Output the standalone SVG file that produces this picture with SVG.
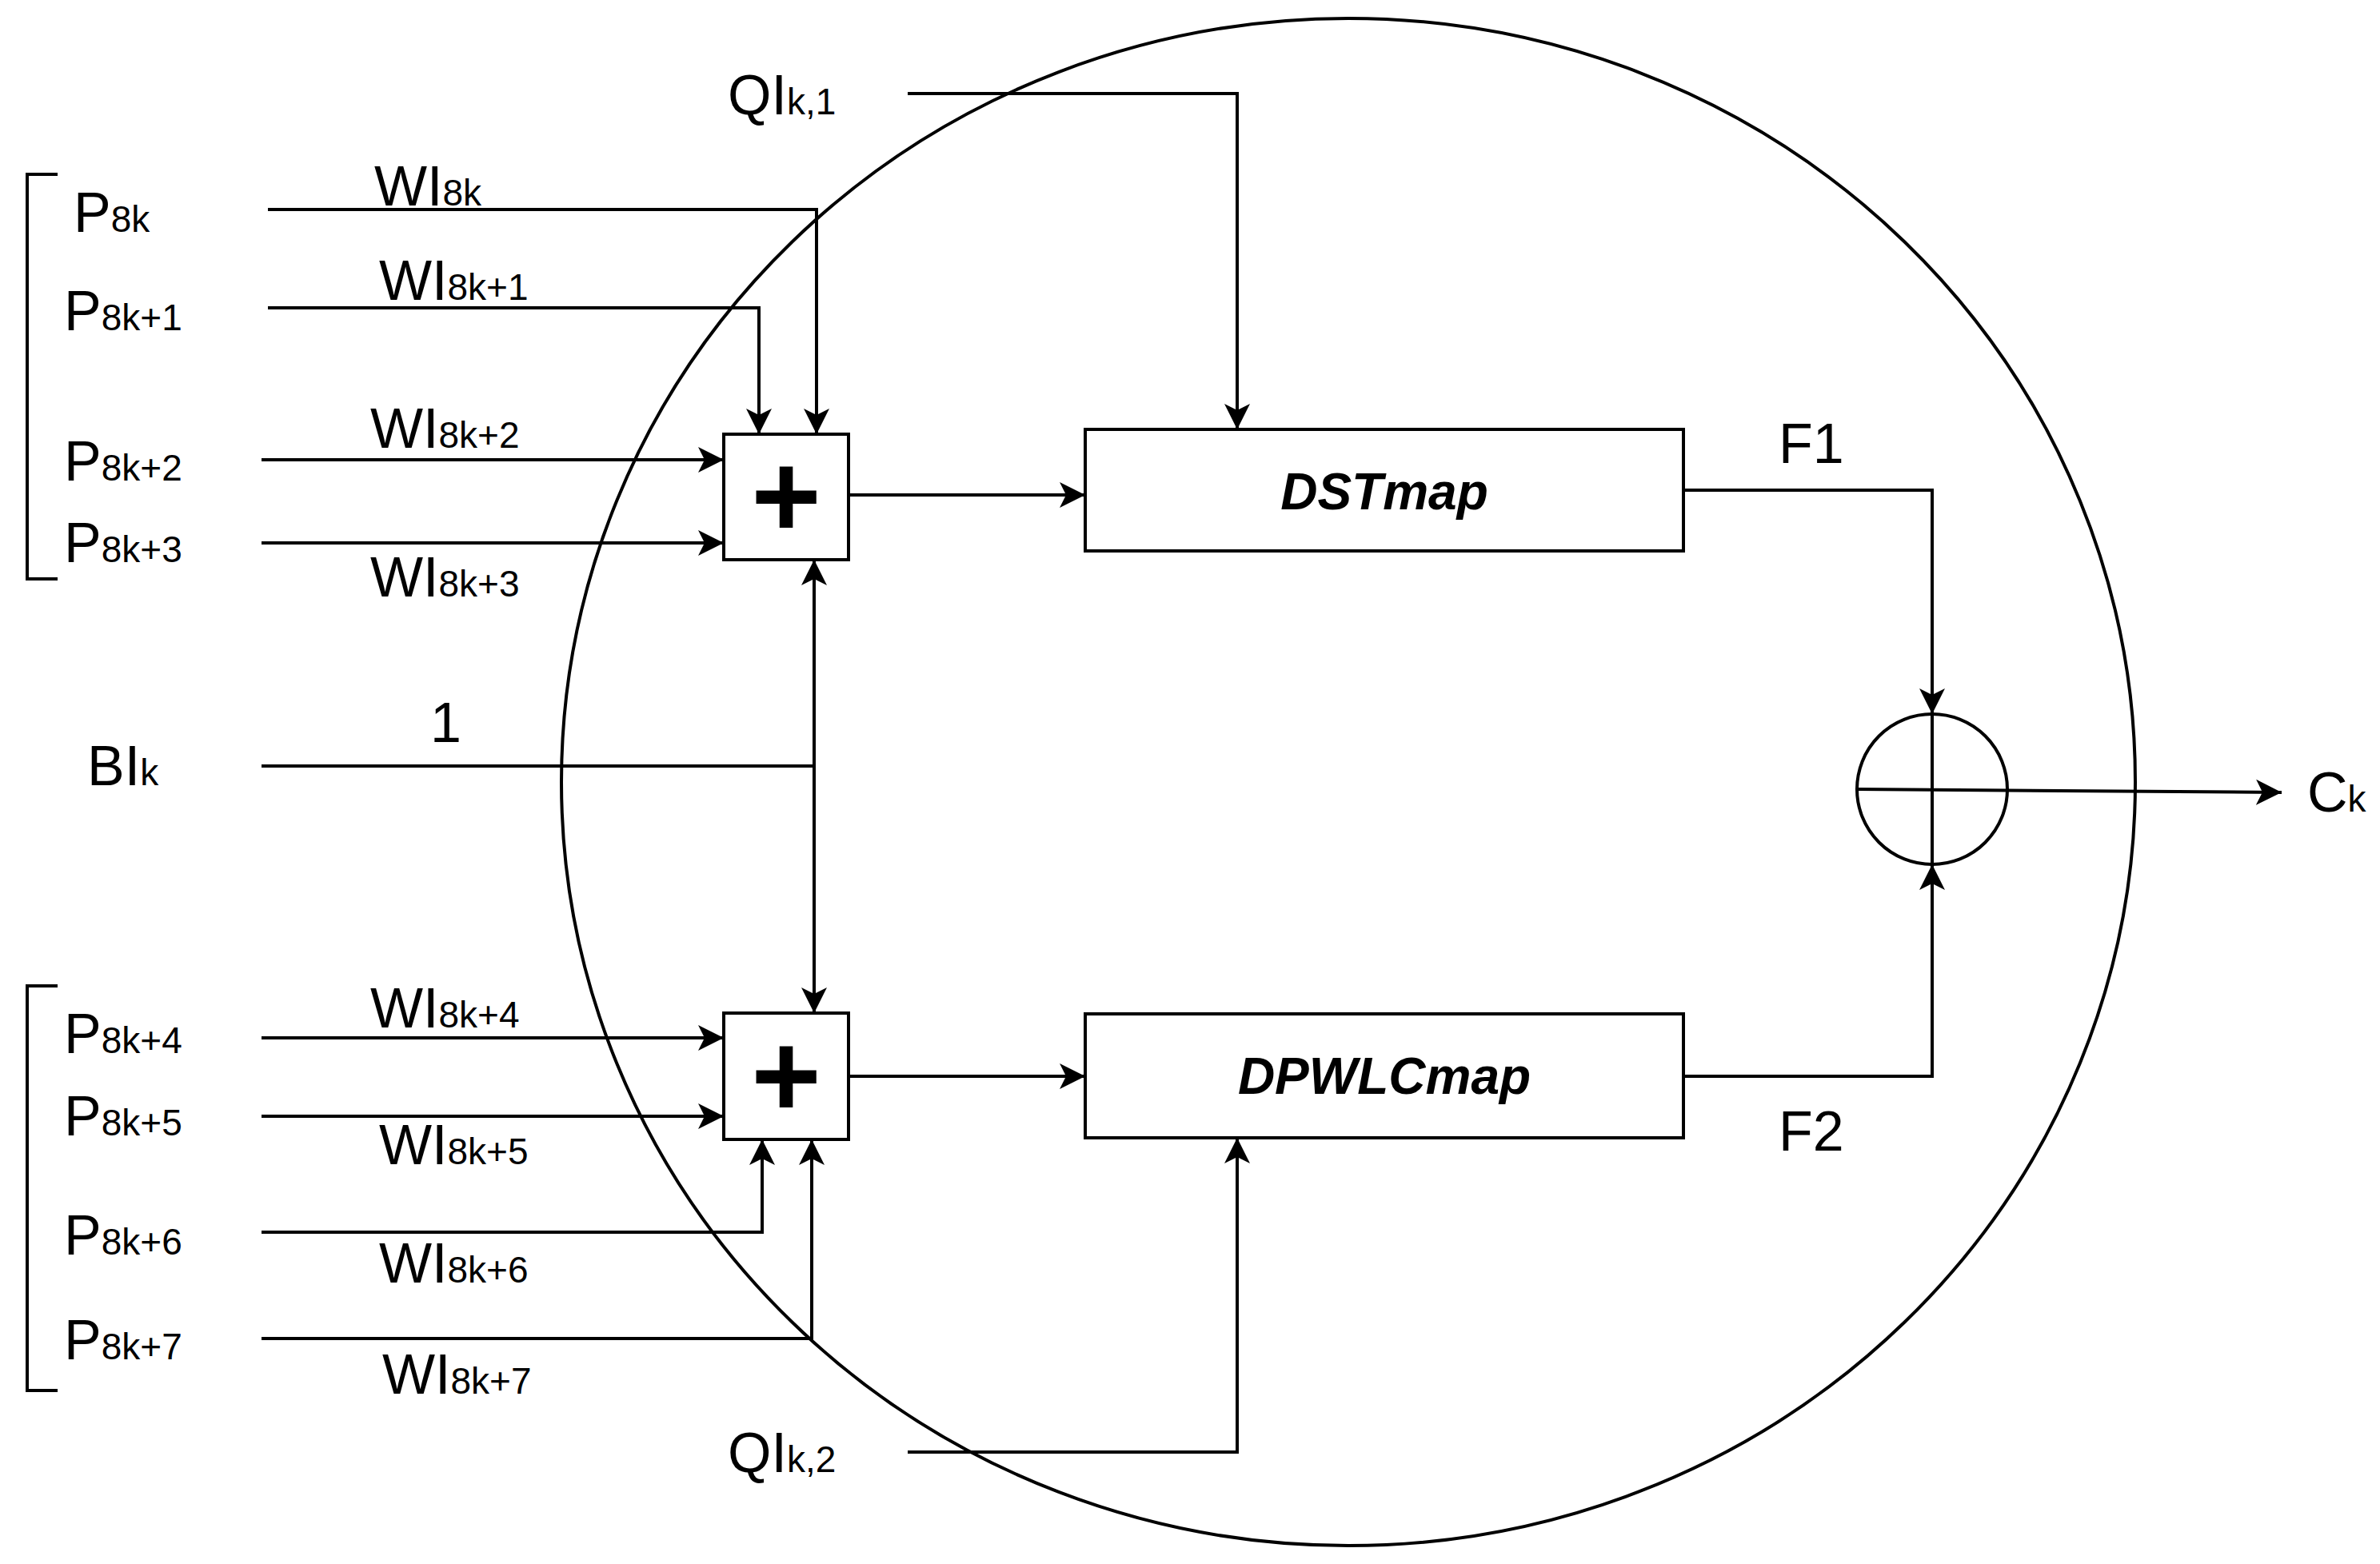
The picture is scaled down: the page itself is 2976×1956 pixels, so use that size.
<svg xmlns="http://www.w3.org/2000/svg" width="2976" height="1956" viewBox="0 0 2976 1956">
<style>
.l{fill:none;stroke:#000;stroke-width:4}
.t{font-family:"Liberation Sans",Arial,sans-serif;font-size:70px;fill:#000}
.s{font-size:46px}
.b{font-family:"Liberation Sans",Arial,sans-serif;font-size:64px;font-weight:bold;font-style:italic;text-anchor:middle}
.p{font-family:"Liberation Sans",Arial,sans-serif;font-size:150px;font-weight:bold;text-anchor:middle}
</style>
<defs>
<marker id="a" markerUnits="userSpaceOnUse" markerWidth="34" markerHeight="34" refX="32" refY="16" orient="auto" viewBox="0 0 34 34">
<path d="M0,0 L32,16 L0,32 L8,16 z" fill="#000"/>
</marker>
</defs>
<rect width="2976" height="1956" fill="#fff"/>
<g id="outer"><ellipse class="l" cx="1686" cy="978" rx="984" ry="955" stroke-width="3.5"/></g>
<g id="brackets">
<path class="l" d="M72,218 H34 V724 H72"/>
<path class="l" d="M72,1233 H34 V1739 H72"/>
</g>
<g id="sum1"><rect class="l" x="905" y="543" width="156" height="157"/><text class="p" x="983" y="672">+</text></g>
<g id="sum2"><rect class="l" x="905" y="1267" width="156" height="158"/><text class="p" x="983" y="1397">+</text></g>
<g id="dst"><rect class="l" x="1357" y="537" width="748" height="152"/><text class="b" x="1731" y="637">DSTmap</text></g>
<g id="dpwlc"><rect class="l" x="1357" y="1268" width="748" height="155"/><text class="b" x="1731" y="1368">DPWLCmap</text></g>
<g id="xor"><circle class="l" cx="2416" cy="987" r="94"/></g>
<g id="connectors">
<path class="l" d="M335,262 H1021 V543" marker-end="url(#a)"/>
<path class="l" d="M335,385 H949 V543" marker-end="url(#a)"/>
<path class="l" d="M327,575 H905" marker-end="url(#a)"/>
<path class="l" d="M327,679 H905" marker-end="url(#a)"/>
<path class="l" d="M327,958 H1018"/>
<path class="l" d="M1018,958 V700" marker-end="url(#a)"/>
<path class="l" d="M1018,958 V1267" marker-end="url(#a)"/>
<path class="l" d="M327,1298 H905" marker-end="url(#a)"/>
<path class="l" d="M327,1396 H905" marker-end="url(#a)"/>
<path class="l" d="M327,1541 H953 V1425" marker-end="url(#a)"/>
<path class="l" d="M327,1674 H1015 V1425" marker-end="url(#a)"/>
<path class="l" d="M1061,619 H1357" marker-end="url(#a)"/>
<path class="l" d="M1061,1346 H1357" marker-end="url(#a)"/>
<path class="l" d="M1135,117 H1547 V537" marker-end="url(#a)"/>
<path class="l" d="M1135,1816 H1547 V1423" marker-end="url(#a)"/>
<path class="l" d="M2105,613 H2416 V893" marker-end="url(#a)"/>
<path class="l" d="M2105,1346 H2416 V1081" marker-end="url(#a)"/>
<path class="l" d="M2416,893 V1081"/>
<path class="l" d="M2322,987 L2853,991" marker-end="url(#a)"/>
</g>
<g id="labels">
<text class="t" x="92" y="290">P<tspan class="s">8k</tspan></text>
<text class="t" x="80" y="413">P<tspan class="s">8k+1</tspan></text>
<text class="t" x="80" y="601">P<tspan class="s">8k+2</tspan></text>
<text class="t" x="80" y="703">P<tspan class="s">8k+3</tspan></text>
<text class="t" x="80" y="1317">P<tspan class="s">8k+4</tspan></text>
<text class="t" x="80" y="1420">P<tspan class="s">8k+5</tspan></text>
<text class="t" x="80" y="1569">P<tspan class="s">8k+6</tspan></text>
<text class="t" x="80" y="1700">P<tspan class="s">8k+7</tspan></text>
<text class="t" x="109" y="982">BI<tspan class="s">k</tspan></text>
<text class="t" x="468" y="257">WI<tspan class="s">8k</tspan></text>
<text class="t" x="474" y="375">WI<tspan class="s">8k+1</tspan></text>
<text class="t" x="463" y="560">WI<tspan class="s">8k+2</tspan></text>
<text class="t" x="463" y="746">WI<tspan class="s">8k+3</tspan></text>
<text class="t" x="463" y="1285">WI<tspan class="s">8k+4</tspan></text>
<text class="t" x="474" y="1456">WI<tspan class="s">8k+5</tspan></text>
<text class="t" x="474" y="1604">WI<tspan class="s">8k+6</tspan></text>
<text class="t" x="478" y="1743">WI<tspan class="s">8k+7</tspan></text>
<text class="t" x="538" y="928">1</text>
<text class="t" x="910" y="143">QI<tspan class="s">k,1</tspan></text>
<text class="t" x="910" y="1841">QI<tspan class="s">k,2</tspan></text>
<text class="t" x="2224" y="579">F1</text>
<text class="t" x="2224" y="1439">F2</text>
<text class="t" x="2885" y="1015">C<tspan class="s">k</tspan></text>
</g>
</svg>
